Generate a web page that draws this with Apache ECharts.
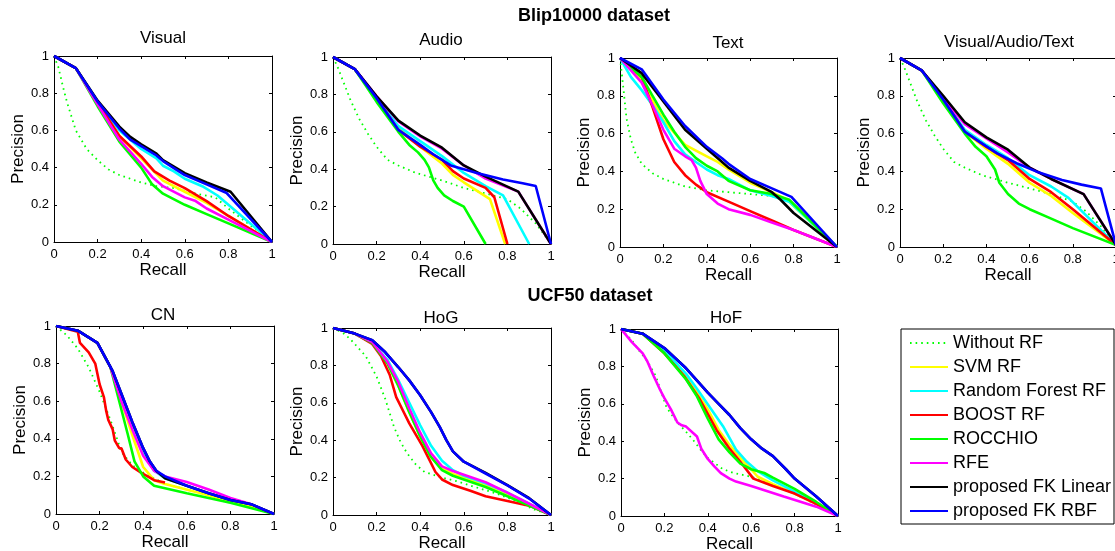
<!DOCTYPE html>
<html><head><meta charset="utf-8">
<script src="https://cdn.jsdelivr.net/npm/echarts@6/dist/echarts.min.js"></script>
<style>html,body{margin:0;padding:0;background:#fff}#c{width:1115px;height:551px}</style>
</head><body><div id="c"></div>
<script>
// ---------- DATA ----------
const seriesNames = ['Without RF','SVM RF','Random Forest RF','BOOST RF','ROCCHIO','RFE','proposed FK Linear','proposed FK RBF'];
const tickValues = [0, 0.2, 0.4, 0.6, 0.8, 1];
const panelTitles = ['Visual','Audio','Text','Visual/Audio/Text','CN','HoG','HoF'];
const groupTitles = ['Blip10000 dataset','UCF50 dataset'];

// order of each panel list = seriesNames order
const visualCurves = [
 [[0,1],[0.02,0.94],[0.04,0.84],[0.06,0.75],[0.1,0.6],[0.15,0.5],[0.2,0.44],[0.25,0.39],[0.3,0.36],[0.4,0.32],[0.47,0.3],[0.55,0.29],[0.65,0.26],[0.74,0.24],[0.8,0.18],[0.9,0.09],[1,0]],
 [[0,1],[0.1,0.935],[0.2,0.75],[0.3,0.57],[0.4,0.45],[0.45,0.39],[0.5,0.33],[0.6,0.27],[0.7,0.21],[0.8,0.14],[1,0]],
 [[0,1],[0.1,0.935],[0.2,0.755],[0.3,0.6],[0.4,0.5],[0.47,0.45],[0.5,0.41],[0.55,0.38],[0.6,0.34],[0.68,0.3],[0.75,0.25],[0.8,0.2],[1,0]],
 [[0,1],[0.1,0.935],[0.2,0.75],[0.3,0.57],[0.4,0.46],[0.46,0.38],[0.53,0.33],[0.6,0.29],[0.7,0.22],[0.8,0.14],[1,0]],
 [[0,1],[0.1,0.935],[0.2,0.73],[0.3,0.54],[0.4,0.4],[0.45,0.31],[0.5,0.26],[0.6,0.2],[0.7,0.15],[0.8,0.1],[1,0]],
 [[0,1],[0.1,0.935],[0.2,0.74],[0.3,0.55],[0.4,0.42],[0.45,0.35],[0.5,0.3],[0.6,0.24],[0.65,0.22],[0.7,0.18],[0.8,0.12],[1,0]],
 [[0,1],[0.1,0.935],[0.2,0.76],[0.3,0.62],[0.35,0.565],[0.4,0.525],[0.47,0.475],[0.5,0.44],[0.6,0.37],[0.7,0.32],[0.81,0.27],[1,0]],
 [[0,1],[0.1,0.935],[0.2,0.755],[0.3,0.61],[0.35,0.55],[0.4,0.515],[0.47,0.465],[0.5,0.435],[0.6,0.36],[0.7,0.31],[0.79,0.265],[1,0]]
];
const audioCurves = [
 [[0,1],[0.02,0.95],[0.05,0.86],[0.08,0.77],[0.12,0.67],[0.16,0.59],[0.2,0.52],[0.25,0.45],[0.3,0.42],[0.38,0.38],[0.5,0.34],[0.6,0.3],[0.7,0.27],[0.8,0.24],[0.86,0.19],[0.93,0.11],[1,0]],
 [[0,1],[0.1,0.935],[0.2,0.78],[0.3,0.62],[0.4,0.52],[0.5,0.43],[0.55,0.37],[0.6,0.33],[0.72,0.24],[0.79,0]],
 [[0,1],[0.1,0.935],[0.2,0.78],[0.3,0.63],[0.4,0.55],[0.5,0.47],[0.6,0.38],[0.7,0.31],[0.78,0.26],[0.9,0]],
 [[0,1],[0.1,0.935],[0.2,0.78],[0.3,0.61],[0.4,0.52],[0.5,0.45],[0.55,0.39],[0.6,0.35],[0.7,0.3],[0.74,0.25],[0.8,0]],
 [[0,1],[0.1,0.935],[0.2,0.76],[0.3,0.6],[0.35,0.53],[0.39,0.49],[0.42,0.45],[0.44,0.41],[0.46,0.34],[0.48,0.3],[0.51,0.26],[0.55,0.23],[0.6,0.2],[0.7,0]],
 [[0,1],[0.1,0.935],[0.2,0.79],[0.3,0.655],[0.4,0.575],[0.5,0.51],[0.6,0.42],[0.7,0.35],[0.85,0.28],[1,0]],
 [[0,1],[0.1,0.935],[0.2,0.79],[0.3,0.66],[0.4,0.58],[0.5,0.515],[0.6,0.42],[0.7,0.36],[0.85,0.28],[1,0]],
 [[0,1],[0.1,0.935],[0.2,0.78],[0.3,0.61],[0.4,0.53],[0.46,0.48],[0.54,0.42],[0.66,0.38],[0.78,0.345],[0.87,0.325],[0.93,0.31],[1,0]]
];
const textCurves = [
 [[0,1],[0.01,0.9],[0.02,0.79],[0.03,0.68],[0.05,0.57],[0.07,0.5],[0.1,0.44],[0.15,0.39],[0.2,0.36],[0.3,0.32],[0.4,0.3],[0.5,0.29],[0.6,0.28],[0.7,0.27],[0.78,0.24],[0.9,0.12],[1,0]],
 [[0,1],[0.1,0.88],[0.2,0.67],[0.3,0.54],[0.4,0.48],[0.45,0.45],[0.5,0.41],[0.6,0.34],[0.7,0.29],[0.77,0.25],[1,0]],
 [[0,1],[0.05,0.9],[0.1,0.83],[0.15,0.75],[0.2,0.66],[0.25,0.56],[0.3,0.49],[0.35,0.45],[0.4,0.41],[0.45,0.38],[0.5,0.36],[0.6,0.3],[0.7,0.27],[0.78,0.24],[1,0]],
 [[0,1],[0.1,0.9],[0.15,0.74],[0.2,0.57],[0.25,0.45],[0.3,0.38],[0.35,0.33],[0.4,0.29],[0.5,0.24],[0.6,0.19],[0.7,0.14],[0.8,0.09],[1,0]],
 [[0,1],[0.1,0.9],[0.15,0.8],[0.2,0.7],[0.25,0.61],[0.3,0.53],[0.35,0.47],[0.4,0.43],[0.45,0.4],[0.5,0.35],[0.6,0.3],[0.7,0.28],[0.78,0.25],[1,0]],
 [[0,1],[0.1,0.87],[0.15,0.75],[0.2,0.62],[0.25,0.52],[0.3,0.48],[0.33,0.46],[0.35,0.42],[0.37,0.35],[0.4,0.28],[0.45,0.23],[0.5,0.2],[0.6,0.17],[0.7,0.13],[0.8,0.09],[1,0]],
 [[0,1],[0.1,0.92],[0.2,0.77],[0.3,0.62],[0.4,0.52],[0.46,0.46],[0.5,0.42],[0.6,0.35],[0.7,0.29],[0.74,0.25],[0.8,0.18],[1,0]],
 [[0,1],[0.1,0.94],[0.2,0.78],[0.3,0.64],[0.4,0.53],[0.47,0.47],[0.5,0.44],[0.6,0.36],[0.7,0.31],[0.79,0.265],[1,0]]
];
const vatCurves = [
 [[0,1],[0.02,0.95],[0.05,0.86],[0.08,0.77],[0.12,0.67],[0.16,0.59],[0.2,0.52],[0.25,0.45],[0.3,0.42],[0.38,0.38],[0.5,0.34],[0.6,0.31],[0.7,0.28],[0.8,0.24],[0.86,0.19],[0.93,0.11],[1,0.01]],
 [[0,1],[0.1,0.935],[0.2,0.78],[0.3,0.61],[0.4,0.52],[0.5,0.44],[0.6,0.34],[0.7,0.27],[0.8,0.18],[1,0.01]],
 [[0,1],[0.1,0.935],[0.2,0.78],[0.3,0.62],[0.4,0.54],[0.5,0.47],[0.6,0.38],[0.7,0.32],[0.78,0.26],[1,0.01]],
 [[0,1],[0.1,0.935],[0.2,0.78],[0.3,0.61],[0.4,0.53],[0.5,0.46],[0.6,0.36],[0.7,0.29],[0.8,0.2],[1,0.01]],
 [[0,1],[0.1,0.935],[0.2,0.76],[0.3,0.6],[0.35,0.53],[0.4,0.48],[0.44,0.41],[0.46,0.34],[0.5,0.28],[0.55,0.23],[0.6,0.2],[0.7,0.15],[0.8,0.1],[1,0.01]],
 [[0,1],[0.1,0.935],[0.2,0.79],[0.3,0.65],[0.4,0.575],[0.5,0.5],[0.6,0.42],[0.7,0.36],[0.85,0.28],[1,0.01]],
 [[0,1],[0.1,0.935],[0.2,0.8],[0.3,0.66],[0.4,0.58],[0.5,0.515],[0.6,0.42],[0.7,0.36],[0.85,0.28],[1,0.01]],
 [[0,1],[0.1,0.935],[0.2,0.78],[0.3,0.61],[0.37,0.555],[0.45,0.495],[0.54,0.443],[0.63,0.4],[0.75,0.355],[0.84,0.33],[0.93,0.31],[1,0.01]]
];
const cnCurves = [
 [[0,1],[0.05,0.95],[0.1,0.88],[0.15,0.78],[0.2,0.65],[0.25,0.5],[0.28,0.4],[0.3,0.33],[0.35,0.26],[0.4,0.22],[0.45,0.19],[0.5,0.16],[0.6,0.13],[0.8,0.07],[1,0]],
 [[0,1],[0.1,0.975],[0.19,0.91],[0.25,0.78],[0.3,0.6],[0.35,0.42],[0.4,0.25],[0.45,0.18],[0.5,0.16],[0.7,0.1],[0.9,0.04],[1,0]],
 [[0,1],[0.1,0.975],[0.19,0.91],[0.25,0.78],[0.3,0.62],[0.35,0.47],[0.4,0.33],[0.45,0.23],[0.5,0.19],[0.6,0.15],[0.7,0.11],[0.8,0.075],[0.9,0.05],[1,0]],
 [[0,1],[0.1,0.97],[0.11,0.91],[0.15,0.86],[0.18,0.8],[0.2,0.69],[0.22,0.62],[0.23,0.55],[0.24,0.5],[0.26,0.45],[0.27,0.39],[0.29,0.35],[0.3,0.35],[0.32,0.29],[0.35,0.25],[0.39,0.22],[0.45,0.18],[0.5,0.167]],
 [[0,1],[0.1,0.975],[0.19,0.91],[0.25,0.78],[0.29,0.6],[0.33,0.42],[0.36,0.28],[0.4,0.2],[0.45,0.15],[0.6,0.11],[0.8,0.06],[1,0]],
 [[0,1],[0.1,0.975],[0.19,0.91],[0.25,0.78],[0.3,0.6],[0.35,0.45],[0.4,0.31],[0.45,0.23],[0.5,0.2],[0.6,0.17],[0.7,0.13],[0.8,0.085],[0.9,0.05],[1,0]],
 [[0,1],[0.1,0.975],[0.19,0.91],[0.26,0.76],[0.3,0.64],[0.35,0.49],[0.4,0.35],[0.43,0.28],[0.46,0.23],[0.5,0.19],[0.6,0.15],[0.7,0.11],[0.8,0.075],[0.9,0.05],[1,0]],
 [[0,1],[0.1,0.975],[0.19,0.91],[0.26,0.76],[0.3,0.64],[0.35,0.49],[0.4,0.35],[0.43,0.28],[0.46,0.23],[0.5,0.2],[0.6,0.15],[0.7,0.11],[0.8,0.075],[0.9,0.05],[1,0]]
];
const hogCurves = [
 [[0,1],[0.05,0.97],[0.08,0.94],[0.15,0.85],[0.2,0.74],[0.24,0.62],[0.28,0.47],[0.31,0.39],[0.34,0.33],[0.38,0.27],[0.42,0.23],[0.5,0.2],[0.57,0.18],[0.65,0.15],[0.75,0.115],[0.85,0.07],[0.92,0.03],[1,0]],
 [[0,1],[0.1,0.97],[0.18,0.92],[0.25,0.81],[0.3,0.69],[0.35,0.55],[0.4,0.42],[0.45,0.31],[0.5,0.25],[0.55,0.22],[0.6,0.2],[0.7,0.16],[0.8,0.11],[0.9,0.055],[1,0]],
 [[0,1],[0.1,0.97],[0.18,0.92],[0.25,0.83],[0.3,0.72],[0.35,0.6],[0.4,0.48],[0.45,0.37],[0.5,0.29],[0.55,0.24],[0.6,0.21],[0.7,0.17],[0.8,0.12],[0.9,0.06],[1,0]],
 [[0,1],[0.1,0.97],[0.18,0.915],[0.22,0.85],[0.26,0.75],[0.29,0.63],[0.32,0.56],[0.35,0.49],[0.38,0.43],[0.41,0.37],[0.44,0.3],[0.47,0.23],[0.5,0.19],[0.55,0.16],[0.63,0.13],[0.7,0.1],[0.8,0.075],[0.9,0.05],[1,0]],
 [[0,1],[0.1,0.97],[0.18,0.92],[0.25,0.81],[0.3,0.69],[0.35,0.55],[0.4,0.42],[0.45,0.31],[0.5,0.24],[0.55,0.21],[0.6,0.19],[0.7,0.15],[0.8,0.1],[0.9,0.05],[1,0]],
 [[0,1],[0.1,0.97],[0.18,0.925],[0.25,0.82],[0.3,0.71],[0.35,0.57],[0.4,0.44],[0.45,0.33],[0.5,0.26],[0.55,0.235],[0.6,0.215],[0.7,0.175],[0.8,0.12],[0.9,0.06],[1,0]],
 [[0,1],[0.1,0.97],[0.18,0.935],[0.24,0.87],[0.3,0.79],[0.35,0.72],[0.4,0.64],[0.45,0.55],[0.49,0.47],[0.52,0.4],[0.55,0.34],[0.6,0.285],[0.7,0.225],[0.8,0.16],[0.9,0.09],[1,0]],
 [[0,1],[0.1,0.97],[0.18,0.935],[0.24,0.87],[0.3,0.79],[0.35,0.72],[0.4,0.64],[0.45,0.55],[0.49,0.47],[0.52,0.4],[0.55,0.34],[0.6,0.285],[0.7,0.222],[0.8,0.158],[0.9,0.088],[1,0]]
];
const hofCurves = [
 [[0,1],[0.05,0.94],[0.08,0.89],[0.12,0.83],[0.16,0.75],[0.21,0.58],[0.26,0.5],[0.3,0.45],[0.33,0.41],[0.37,0.35],[0.4,0.31],[0.47,0.25],[0.52,0.23],[0.56,0.22],[0.6,0.21],[0.7,0.17],[0.8,0.12],[0.9,0.06],[1,0]],
 [[0,1],[0.1,0.975],[0.2,0.88],[0.3,0.74],[0.35,0.66],[0.4,0.57],[0.45,0.46],[0.5,0.38],[0.55,0.31],[0.6,0.25],[0.63,0.21],[0.7,0.17],[0.8,0.12],[0.9,0.065],[1,0]],
 [[0,1],[0.1,0.975],[0.2,0.885],[0.3,0.76],[0.35,0.68],[0.41,0.58],[0.47,0.48],[0.53,0.355],[0.58,0.29],[0.63,0.24],[0.7,0.19],[0.8,0.13],[0.9,0.07],[1,0]],
 [[0,1],[0.1,0.975],[0.2,0.87],[0.29,0.75],[0.36,0.63],[0.44,0.46],[0.5,0.36],[0.55,0.29],[0.61,0.2],[0.7,0.16],[0.8,0.12],[0.9,0.065],[1,0]],
 [[0,1],[0.1,0.975],[0.2,0.87],[0.3,0.73],[0.35,0.64],[0.4,0.52],[0.45,0.41],[0.5,0.34],[0.55,0.28],[0.6,0.25],[0.66,0.23],[0.7,0.205],[0.8,0.145],[0.9,0.075],[1,0]],
 [[0,1],[0.05,0.93],[0.1,0.87],[0.12,0.83],[0.15,0.75],[0.18,0.675],[0.2,0.63],[0.23,0.57],[0.26,0.5],[0.28,0.485],[0.3,0.478],[0.35,0.425],[0.37,0.36],[0.4,0.305],[0.43,0.265],[0.46,0.229],[0.5,0.2],[0.53,0.184],[0.6,0.16],[0.75,0.104],[0.9,0.05],[1,0]],
 [[0,1],[0.1,0.975],[0.2,0.898],[0.3,0.79],[0.4,0.66],[0.45,0.6],[0.5,0.54],[0.55,0.47],[0.6,0.41],[0.65,0.36],[0.7,0.32],[0.76,0.25],[0.8,0.2],[0.9,0.104],[1,0]],
 [[0,1],[0.1,0.975],[0.2,0.898],[0.3,0.79],[0.4,0.66],[0.45,0.6],[0.5,0.54],[0.55,0.47],[0.6,0.41],[0.65,0.36],[0.7,0.32],[0.76,0.25],[0.8,0.2],[0.9,0.104],[1,0]]
];

// ---------- STYLE / LAYOUT ----------
const FONT = '"Liberation Sans", Arial, Helvetica, sans-serif';
const seriesColors = ['#00ff00','#ffff00','#00ffff','#ff0000','#00ff00','#ff00ff','#000000','#0000ff'];
const panelCurves = [visualCurves, audioCurves, textCurves, vatCurves, cnCurves, hogCurves, hofCurves];
const gridBoxes = [
  {left:54, top:56, width:218, height:186},
  {left:333, top:57, width:218, height:187},
  {left:620, top:58, width:217, height:189},
  {left:900, top:58, width:216, height:189},
  {left:56, top:326, width:218, height:188},
  {left:333, top:328, width:218, height:187},
  {left:621, top:329, width:217, height:187}
];
const titlePos = [[163,38],[441,40],[728,43],[1009,42],[163,315],[441,318],[726,318]];
const groupTitlePos = [[594,16],[590,296]];

const grids = [], xAxes = [], yAxes = [], series = [], graphics = [];
const axisLineStyle = {show:true, onZero:false, lineStyle:{color:'#000', width:1}};
const tickStyle = {show:true, inside:true, length:3, lineStyle:{color:'#000', width:1}};

panelCurves.forEach((curves, i) => {
  grids.push(Object.assign({containLabel:false, outerBoundsMode:'none'}, gridBoxes[i]));
  const base = {type:'value', gridIndex:i, min:tickValues[0], max:tickValues[tickValues.length-1],
    interval:tickValues[1]-tickValues[0], splitLine:{show:false}, axisLine:axisLineStyle, axisTick:tickStyle};
  xAxes.push(Object.assign({}, base, {position:'bottom', name:'Recall', nameLocation:'middle', nameGap:18,
    nameTextStyle:{fontSize:17, color:'#000', fontFamily:FONT},
    axisLabel:{fontSize:13, color:'#000', fontFamily:FONT, margin:6}}));
  xAxes.push(Object.assign({}, base, {position:'top', axisLabel:{show:false}}));
  yAxes.push(Object.assign({}, base, {position:'left', name:'Precision', nameLocation:'middle', nameGap:27,
    nameTextStyle:{fontSize:17, color:'#000', fontFamily:FONT},
    axisLabel:{fontSize:13, color:'#000', fontFamily:FONT, margin:5}}));
  yAxes.push(Object.assign({}, base, {position:'right', axisLabel:{show:false}}));
  curves.forEach((pts, k) => {
    series.push({
      type:'line', name:seriesNames[k], xAxisIndex:2*i, yAxisIndex:2*i, data:pts,
      symbol:'none', showSymbol:false, silent:true, animation:false, clip:true,
      itemStyle:{color:seriesColors[k]},
      lineStyle:{color:seriesColors[k], width:k===0?1.8:2.6, type:k===0?[1.6,4]:'solid'}
    });
  });
  graphics.push({type:'text', x:titlePos[i][0], y:titlePos[i][1], silent:true,
    style:{text:panelTitles[i], font:'17px ' + FONT, fill:'#000', align:'center', verticalAlign:'middle'}});
});
groupTitles.forEach((t, j) => {
  graphics.push({type:'text', x:groupTitlePos[j][0], y:groupTitlePos[j][1], silent:true,
    style:{text:t, font:'bold 18px ' + FONT, fill:'#000', align:'center', verticalAlign:'middle'}});
});
graphics.push({type:'rect', silent:true, shape:{x:901, y:329, width:213, height:195},
  style:{fill:'none', stroke:'#000', lineWidth:1}});

const chart = echarts.init(document.getElementById('c'), null, {renderer:'canvas'});
chart.setOption({
  backgroundColor:'#fff',
  animation:false,
  grid:grids, xAxis:xAxes, yAxis:yAxes, series:series,
  legend:{data:seriesNames, orient:'vertical', left:909, top:334, padding:0, itemWidth:38, itemHeight:14, itemGap:6,
    selectedMode:false, itemStyle:{opacity:0, borderWidth:0},
    lineStyle:{width:2},
    textStyle:{fontSize:18, color:'#000', fontFamily:FONT}},
  graphic:graphics
});
</script></body></html>
